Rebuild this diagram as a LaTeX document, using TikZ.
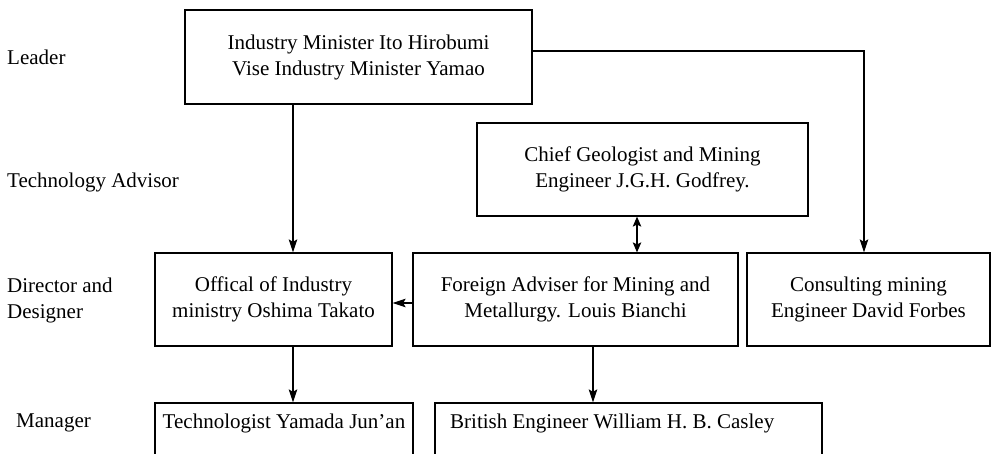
\documentclass[tikz,border=0pt]{standalone}
\usepackage{fontspec}
\setmainfont{Liberation Serif}
\usetikzlibrary{arrows.meta}
\begin{document}
\begin{tikzpicture}[x=1pt,y=-1pt,
  every node/.style={font=\fontsize{21}{26}\selectfont, inner sep=0pt},
  box/.style={draw, line width=1.2pt, align=center},
  lab/.style={anchor=west, align=left},
  arr/.style={line width=1.2pt, -{Stealth[length=13pt,width=8.5pt,inset=2.5pt]}},
  dbl/.style={line width=1.2pt, {Stealth[length=10pt,width=8.5pt,inset=2pt]}-{Stealth[length=10pt,width=8.5pt,inset=2pt]}}
]
\useasboundingbox (0,0) rectangle (993,454);
\clip (0,0) rectangle (993,454);
\fill[white] (0,0) rectangle (993,454);

% row labels
\node[lab] (lLeader) at (7,57) {Leader};
\node[lab] (lTech) at (7,182) {Technology Advisor};
\node[lab] (lDir) at (7,300) {Director and\\Designer};
\node[lab] (lMan) at (16,423) {Manager};

% boxes
\node[box, minimum width=347pt, minimum height=94pt] (leader) at (358.5,57)
  {Industry Minister Ito Hirobumi\\Vise Industry Minister Yamao};
\node[box, minimum width=331pt, minimum height=93pt] (chief) at (642.5,169.5)
  {Chief Geologist and Mining\\Engineer J.G.H. Godfrey.};
\node[box, minimum width=237pt, minimum height=93pt] (offical) at (273.5,299.5)
  {Offical of Industry\\ministry Oshima Takato};
\node[box, minimum width=325pt, minimum height=93pt] (foreign) at (575.5,299.5)
  {Foreign Adviser for Mining and\\Metallurgy. Louis Bianchi};
\node[box, minimum width=243pt, minimum height=93pt] (consult) at (868.5,299.5)
  {Consulting mining\\Engineer David Forbes};
\node[box, minimum width=258pt, minimum height=67pt] (techno) at (284,436.5) {};
\node (technotxt) at (284,423) {Technologist Yamada Jun'an};
\node[box, minimum width=387pt, minimum height=67pt] (british) at (628.5,436.5) {};
\node[anchor=west] (britishtxt) at (450,423) {British Engineer William H. B. Casley};

% connector x positions
\coordinate (xA) at (293,0);
\coordinate (xB) at (637,0);
\coordinate (xC) at (593,0);
\coordinate (xD) at (864,0);

% connectors
\draw[arr] (leader.south -| xA) -- (offical.north -| xA);
\draw[arr] ([yshift=6pt]leader.east) -| (consult.north -| xD);
\draw[dbl] (chief.south -| xB) -- (foreign.north -| xB);
\draw[arr] ([yshift=-3.5pt]foreign.west) -- ([yshift=-3.5pt]offical.east);
\draw[arr] (offical.south -| xA) -- (techno.north -| xA);
\draw[arr] (foreign.south -| xC) -- (british.north -| xC);
\end{tikzpicture}
\end{document}
